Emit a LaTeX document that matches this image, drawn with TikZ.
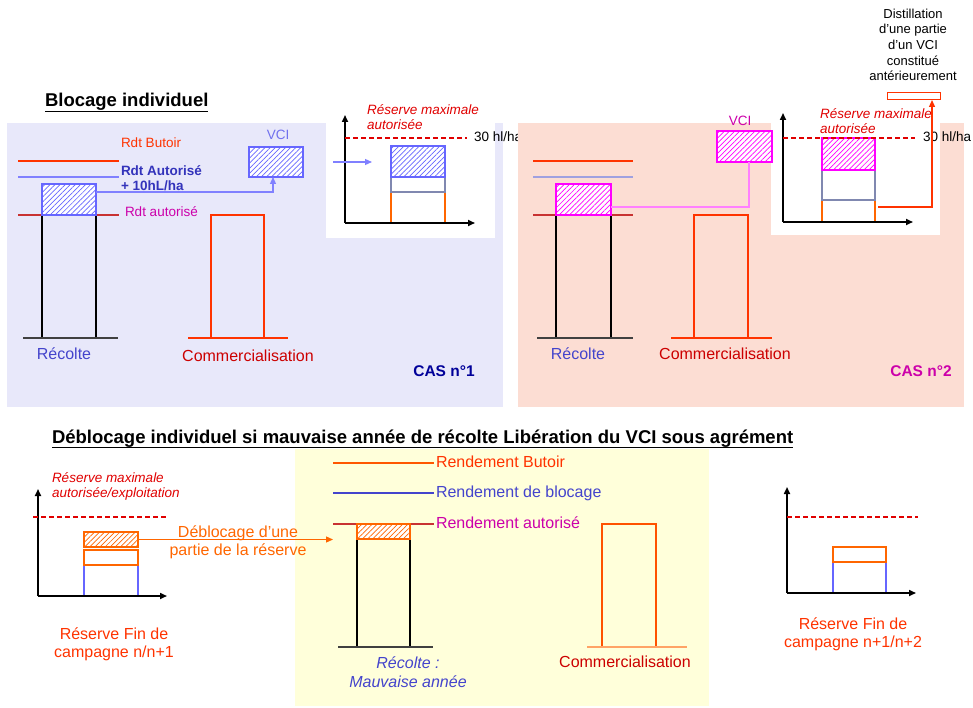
\documentclass[tikz,border=0pt]{standalone}
\usepackage{fontspec}
\setmainfont{Liberation Sans}
\usepackage{xcolor}
\usepackage{tikz}
\usetikzlibrary{patterns.meta,arrows.meta}
\definecolor{panelblue}{HTML}{E8E8FA}
\definecolor{panelpink}{HTML}{FCDDD3}
\definecolor{panelyellow}{HTML}{FFFFDA}
\definecolor{butoir}{HTML}{FF3300}
\definecolor{blocline}{HTML}{8080FF}
\definecolor{lavline}{HTML}{A0A0E0}
\definecolor{autline}{HTML}{C83232}
\definecolor{hatchblue}{HTML}{6666FF}
\definecolor{hatchmag}{HTML}{FF00FF}
\definecolor{pinkline}{HTML}{FF80FF}
\definecolor{orng}{HTML}{FF6600}
\definecolor{recblue}{HTML}{4444CC}
\definecolor{boldblue}{HTML}{3333BB}
\definecolor{vcilight}{HTML}{7070EE}
\definecolor{magtxt}{HTML}{CC00AA}
\definecolor{comred}{HTML}{CC0000}
\definecolor{navy}{HTML}{000099}
\definecolor{maxred}{HTML}{E00000}
\definecolor{greyblue}{HTML}{8088B0}

\begin{document}
\begin{tikzpicture}[x=1pt,y=-1pt,
  txt/.style={inner sep=0pt,outer sep=0pt,font=\fontsize{13.5}{15.7}\selectfont},
  big/.style={inner sep=0pt,outer sep=0pt,font=\fontsize{16}{18}\selectfont},
  ttl/.style={inner sep=0pt,outer sep=0pt,font=\fontsize{18.5}{22}\selectfont\bfseries},
  itl/.style={inner sep=0pt,outer sep=0pt,font=\fontsize{13.5}{15}\selectfont\itshape,maxred,align=left,anchor=base west},
  bx/.style={rectangle,inner sep=0pt,outer sep=0pt,line width=1.2pt},
  hatch/.style={bx,draw=#1,preaction={fill=white},pattern={Lines[angle=45,distance=3.6pt,line width=0.7pt]},pattern color=#1},
  axis/.style={line width=1.6pt,-{Triangle[width=6pt,length=7pt]}},
  maxi/.style={color=maxred,line width=1.2pt,dash pattern=on 4.5pt off 3.5pt},
  lvl/.style={line width=1.2pt},
  tip/.style={-{Triangle[width=6pt,length=7pt]}}]
\useasboundingbox (0,0) rectangle (973,708);

\node[ttl,anchor=base west] (t1) at (45,107) {Blocage individuel};
\draw[line width=1.6pt] ([yshift=-4.7pt]t1.base west) -- ([yshift=-4.7pt]t1.base east);

\fill[panelblue] (7,123) rectangle (503,407);
\node[bx,draw=black,minimum width=54,minimum height=123] (r1) at (69,276.5) {};
\draw[lvl,black!75] (23,338) -- (118,338);
\draw[lvl,butoir] (18,161) -- (119,161);
\draw[lvl,blocline] (18,177) -- (119,177);
\draw[lvl,autline] (18,215) -- (119,215);
\node[hatch=hatchblue,minimum width=54,minimum height=31] (h1) at (69,199.5) {};
\node[hatch=hatchblue,minimum width=54,minimum height=30] (v1) at (276,162) {};
\node[txt,vcilight,anchor=base] (v1l) at (278,140) {VCI};
\draw[lvl,blocline,tip] ([yshift=7.5pt]h1.east) -| ([xshift=-3pt]v1.south);
\node[bx,draw=butoir,minimum width=53,minimum height=123] (c1) at (237.5,276.5) {};
\draw[lvl,butoir] (188,338) -- (288,338);
\node[txt,butoir,anchor=base west] (lb1) at (121,148) {Rdt Butoir};
\node[txt,boldblue,font=\fontsize{13.5}{15}\selectfont\bfseries,anchor=base west,align=left] (lb2) at (121,191) {Rdt Autorisé\\+ 10hL/ha};
\node[txt,magtxt,anchor=base west] (lb3) at (125,217) {Rdt autorisé};
\node[big,recblue,anchor=base] (rc1) at (64,359) {Récolte};
\node[big,comred,anchor=base] (cm1) at (248,361) {Commercialisation};
\node[txt,navy,font=\fontsize{15.5}{18}\selectfont\bfseries,anchor=base] (cas1) at (444,376) {CAS n°1};

\fill[white] (326,123) rectangle (495,238);
\node[bx,draw=orng,minimum width=54,minimum height=31] (s1c) at (418,207.5) {};
\node[bx,draw=greyblue,minimum width=54,minimum height=15] (s1b) at (418,184.5) {};
\node[hatch=hatchblue,minimum width=54,minimum height=31] (s1a) at (418,161.5) {};
\coordinate (o1) at (345,223);
\draw[axis] (o1) -- (345,115);
\draw[axis] (o1) -- (475,223);
\draw[maxi] (345,138) -- (467,138);
\node[itl] (rm1) at (367,130) {Réserve maximale\\autorisée};
\node[txt,anchor=base west] (hl1) at (474,142) {30 hl/ha};
\coordinate (in1) at (333,162);
\coordinate (in2) at (372,162);
\draw[lvl,blocline,tip] (in1) -- (in2);

\fill[panelpink] (518,123) rectangle (964,407);
\node[bx,draw=black,minimum width=55,minimum height=123] (r2) at (583.5,276.5) {};
\draw[lvl,black!75] (537,338) -- (633,338);
\draw[lvl,butoir] (533,161) -- (633,161);
\draw[lvl,lavline] (533,177) -- (633,177);
\draw[lvl,autline] (533,215) -- (633,215);
\node[hatch=hatchmag,minimum width=55,minimum height=31] (h2) at (583.5,199.5) {};
\node[bx,draw=butoir,minimum width=54,minimum height=123] (c2) at (721,276.5) {};
\draw[lvl,butoir] (671,338) -- (772,338);
\node[big,recblue,anchor=base] (rc2) at (578,359) {Récolte};
\node[big,comred,anchor=base] (cm2) at (725,359) {Commercialisation};
\node[txt,magtxt,font=\fontsize{15.5}{18}\selectfont\bfseries,anchor=base] (cas2) at (921,376) {CAS n°2};

\fill[white] (771,123) rectangle (940,235);
\node[hatch=hatchmag,minimum width=55,minimum height=31] (v2) at (744.5,146.5) {};
\node[txt,magtxt,anchor=base] (v2l) at (740,126) {VCI};
\draw[lvl,pinkline] ([yshift=-7.5pt]h2.east) -| ([xshift=4.5pt]v2.south);
\node[bx,draw=orng,minimum width=53,minimum height=22] (s2c) at (848.5,211) {};
\node[bx,draw=greyblue,minimum width=53,minimum height=30] (s2b) at (848.5,185) {};
\node[hatch=hatchmag,minimum width=53,minimum height=32] (s2a) at (848.5,154) {};
\coordinate (o2) at (783,222);
\draw[axis] (o2) -- (783,113);
\draw[axis] (o2) -- (913,222);
\draw[maxi] (783,138) -- (915,138);
\node[itl] (rm2) at (820,134) {Réserve maximale\\autorisée};
\node[txt,anchor=base west] (hl2) at (923,142) {30 hl/ha};
\node[bx,draw=butoir,line width=1pt,minimum width=53,minimum height=7] (db) at (913.5,96.5) {};
\draw[lvl,butoir,tip] ([xshift=3pt,yshift=4pt]s2c.east) -| ([xshift=18.5pt]db.south);
\node[txt,font=\fontsize{13}{15.7}\selectfont,align=center,anchor=base] (dist) at (913,81) {Distillation\\d’une partie\\d’un VCI\\constitué\\antérieurement};

\node[ttl,anchor=base west] (t2) at (52,443) {Déblocage individuel si mauvaise année de récolte Libération du VCI sous agrément};
\draw[line width=1.6pt] ([yshift=-4.5pt]t2.base west) -- ([yshift=-4.5pt]t2.base east);

\fill[panelyellow] (295,449) rectangle (709,706);
\draw[lvl,orng!70!butoir] (333,463) -- (434,463);
\draw[lvl,recblue] (333,493) -- (434,493);
\draw[lvl,autline] (333,524) -- (434,524);
\node[big,butoir,anchor=base west] (rb) at (436,467) {Rendement Butoir};
\node[big,recblue,anchor=base west] (rbl) at (436,497) {Rendement de blocage};
\node[big,magtxt,anchor=base west] (ra) at (436,528) {Rendement autorisé};
\node[bx,draw=black,minimum width=53,minimum height=108] (r3) at (383.5,593) {};
\node[hatch=orng,minimum width=53,minimum height=15] (h3) at (383.5,531.5) {};
\draw[lvl,black!75] (338,647) -- (433,647);
\node[big,recblue,font=\fontsize{16}{19}\selectfont\itshape,align=center,anchor=base] (rc3) at (408,687) {Récolte :\\Mauvaise année};
\node[bx,draw=orng!60!butoir,minimum width=54,minimum height=123] (c3) at (629,585.5) {};
\draw[lvl,orng!60] (587,647) -- (687,647);
\node[big,comred,anchor=base] (cm3) at (625,667) {Commercialisation};

\node[bx,draw=hatchblue,minimum width=54,minimum height=31] (s3c) at (111,580.5) {};
\node[bx,draw=orng,minimum width=54,minimum height=15] (s3b) at (111,557.5) {};
\node[hatch=orng,minimum width=54,minimum height=15] (s3a) at (111,539.5) {};
\coordinate (o3) at (38,596);
\draw[axis] (o3) -- (38,489);
\draw[axis] (o3) -- (167,596);
\draw[maxi] (33,517) -- (166,517);
\node[itl] (rm3) at (52,497) {Réserve maximale\\autorisée/exploitation};
\coordinate (deb) at (333,539.5);
\draw[lvl,orng,tip] (s3a.east) -- (deb);
\node[big,orng,align=center,anchor=base] (dbl) at (238,555) {Déblocage d’une\\partie de la réserve};
\node[big,butoir,align=center,anchor=base] (rf1) at (114,657) {Réserve Fin de\\campagne n/n+1};

\node[bx,draw=hatchblue,minimum width=53,minimum height=31] (s4b) at (859.5,577.5) {};
\node[bx,draw=orng,minimum width=53,minimum height=15] (s4a) at (859.5,554.5) {};
\coordinate (o4) at (787,593);
\draw[axis] (o4) -- (787,487);
\draw[axis] (o4) -- (916,593);
\draw[maxi] (787,517) -- (918,517);
\node[big,butoir,align=center,anchor=base] (rf2) at (853,647) {Réserve Fin de\\campagne n+1/n+2};
\end{tikzpicture}
\end{document}
